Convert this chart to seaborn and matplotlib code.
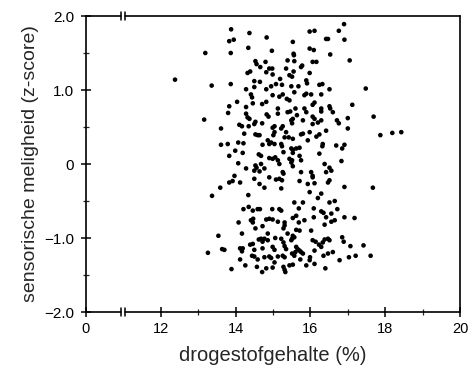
import matplotlib
matplotlib.use("Agg")
import matplotlib.pyplot as plt
import seaborn as sns
import pandas as pd

# drogestofgehalte (%)
dm_pct = [
    13.88, 14.37, 13.83, 13.95, 14.34, 13.19, 13.87, 14.53, 14.56, 14.32, 14.39, 12.38, 13.36, 13.87, 14.50,
    14.28, 14.50, 14.41, 14.44, 14.04, 14.46, 13.83, 14.28,
    16.90, 15.98, 16.11, 16.76, 14.83, 16.42, 16.47, 16.91, 15.53, 14.97, 15.98, 16.09, 15.55, 15.56, 16.53,
    14.80, 15.39, 15.57, 16.06, 16.16, 17.05, 14.66, 14.90, 14.98, 15.35, 15.75, 15.78, 15.55, 14.82, 14.99,
    15.44, 15.51, 15.98, 15.19, 15.89, 15.91, 16.24, 16.32, 14.65, 15.08, 15.24, 14.95, 14.82, 15.49, 15.68,
    16.51, 17.48, 14.99, 15.17, 15.26, 15.37, 15.44, 15.57, 15.84, 15.89, 16.02, 16.29, 14.82, 14.71, 16.06,
    16.11, 16.51, 16.53, 17.12, 15.13, 15.60, 15.84, 16.29,
    17.69, 17.87, 18.19, 18.43, 17.67, 16.85, 16.91,
    13.16, 13.80, 14.28, 14.32, 14.37, 14.53, 14.50, 14.10, 14.17, 14.35, 13.61, 14.23, 14.53, 14.59, 13.61,
    13.79, 14.07, 14.21, 13.99, 13.83, 14.19, 14.62, 14.07, 14.28, 14.53, 14.56, 14.50, 13.97, 13.83, 13.92,
    14.12, 14.50, 13.59, 13.37, 14.34, 14.64,
    14.83, 14.88, 15.13, 15.39, 15.46, 15.64, 15.89, 16.06, 16.29, 16.60, 17.00, 14.71, 14.99, 15.04, 15.26,
    15.22, 15.49, 15.53, 15.51, 15.80, 16.11, 16.20, 16.06, 16.29, 16.71, 16.76, 17.00, 15.04, 15.01, 15.35,
    15.42, 15.53, 15.31, 15.75, 15.80, 15.98, 16.16, 16.24, 16.42, 14.64, 14.86, 14.95, 15.04, 14.90, 14.72,
    15.22, 15.24, 15.93, 16.33, 16.32, 16.69, 15.49, 15.53, 15.62, 15.71, 15.28, 15.53, 15.71, 16.24, 14.68,
    14.90, 14.99, 15.06, 15.13, 15.17, 15.44, 15.51, 15.49, 15.75, 16.83, 14.68, 15.53, 16.38, 16.51, 16.56,
    14.77, 15.26, 15.28, 14.64, 15.75, 16.02, 16.06, 16.06, 16.42, 14.90, 15.08, 15.17, 15.24, 15.71, 15.93,
    16.11, 16.47, 16.51, 14.77, 15.22, 16.91, 15.98, 16.29, 16.20, 15.57, 15.80, 16.51, 16.65,
    14.21, 14.35, 14.46, 14.59, 14.08, 14.41, 14.47, 14.46, 14.53, 13.54, 14.17, 14.62, 13.64, 13.70, 13.26,
    14.12, 14.19, 14.17, 14.39, 14.46, 14.50, 14.44, 14.50, 14.12, 14.59, 14.26, 14.57, 13.89,
    14.65, 14.98, 15.17, 15.22, 15.69, 16.09, 16.29, 16.35, 16.72, 16.56, 14.82, 14.90, 14.99, 15.13, 15.53,
    15.62, 15.69, 15.84, 16.09, 16.42, 16.56, 16.65, 16.91, 17.18, 14.72, 15.31, 15.31, 15.28, 15.62, 15.71,
    16.38, 16.02, 14.86, 15.39, 15.53, 15.57, 15.51, 15.49, 14.68, 14.77, 14.86, 14.72, 15.06, 15.22, 15.28,
    16.06, 16.14, 16.33, 16.38, 16.47, 16.51, 16.85, 16.89, 14.72, 14.99, 15.04, 15.31, 15.35, 15.62, 15.66,
    15.71, 16.23, 16.29, 16.11, 17.07, 17.42, 15.51, 15.60, 15.57, 15.75, 15.80, 16.35, 16.47, 16.60, 17.03,
    17.21, 14.77, 14.90, 14.95, 15.13, 15.26, 15.31, 15.99, 15.98, 15.73, 16.78, 15.04, 16.11, 15.89, 15.44,
    15.53, 15.28, 15.31, 15.33, 14.82, 14.99, 14.71, 16.40, 17.61,
]

# sensorische meligheid (z-score)
mealiness_z = [
    1.82, 1.77, 1.66, 1.68, 1.57, 1.50, 1.50, 1.39, 1.35, 1.23, 1.25, 1.14, 1.06, 1.08, 1.12,
    1.01, 1.04, 0.94, 0.90, 0.84, 0.82, 0.78, 0.77,
    1.89, 1.79, 1.80, 1.80, 1.71, 1.69, 1.69, 1.68, 1.65, 1.53, 1.56, 1.54, 1.49, 1.47, 1.48,
    1.38, 1.40, 1.39, 1.38, 1.38, 1.40, 1.31, 1.29, 1.29, 1.29, 1.31, 1.33, 1.25, 1.24, 1.21,
    1.20, 1.18, 1.23, 1.15, 1.13, 1.09, 1.07, 1.08, 1.11, 1.08, 1.07, 1.05, 1.01, 1.05, 1.05,
    1.01, 1.02, 0.93, 0.91, 0.94, 0.88, 0.86, 0.97, 0.93, 0.95, 0.94, 0.94, 0.84, 0.81, 0.80,
    0.83, 0.78, 0.75, 0.80, 0.75, 0.75, 0.75, 0.75,
    0.64, 0.39, 0.42, 0.43, -0.32, 0.21, 0.26,
    0.60, 0.69, 0.68, 0.63, 0.61, 0.57, 0.54, 0.53, 0.51, 0.51, 0.48, 0.41, 0.40, 0.39, 0.26,
    0.27, 0.29, 0.28, 0.18, 0.11, 0.15, 0.13, 0.01, -0.06, -0.02, -0.05, -0.09, -0.16, -0.25, -0.23,
    -0.25, -0.20, -0.32, -0.43, -0.42, -0.27,
    0.67, 0.64, 0.68, 0.70, 0.71, 0.66, 0.70, 0.64, 0.71, 0.70, 0.62, 0.55, 0.49, 0.51, 0.51,
    0.48, 0.59, 0.61, 0.55, 0.59, 0.61, 0.56, 0.54, 0.59, 0.59, 0.55, 0.48, 0.43, 0.39, 0.43,
    0.36, 0.34, 0.36, 0.40, 0.41, 0.43, 0.37, 0.40, 0.45, 0.39, 0.32, 0.29, 0.27, 0.27, 0.26,
    0.27, 0.24, 0.32, 0.27, 0.24, 0.25, 0.21, 0.19, 0.21, 0.22, 0.16, 0.15, 0.11, 0.14, 0.11,
    0.08, 0.07, 0.09, 0.05, 0.00, 0.07, 0.05, 0.02, 0.05, 0.04, 0.00, -0.03, 0.00, -0.05, -0.09,
    -0.06, -0.11, -0.13, -0.10, -0.11, -0.11, -0.16, -0.18, -0.11, -0.18, -0.21, -0.20, -0.22, -0.23, -0.27,
    -0.26, -0.25, -0.22, -0.32, -0.33, -0.31, -0.38, -0.40, -0.46, -0.52, -0.52, -0.52, -0.50,
    -0.61, -0.58, -0.63, -0.61, -0.79, -0.76, -0.74, -0.79, -0.87, -0.97, -0.94, -1.02, -1.15, -1.16, -1.20,
    -1.14, -1.14, -1.18, -1.09, -1.08, -1.16, -1.24, -1.25, -1.29, -1.29, -1.37, -1.39, -1.42,
    -0.61, -0.61, -0.61, -0.63, -0.60, -0.60, -0.64, -0.66, -0.61, -0.67, -0.75, -0.74, -0.75, -0.78, -0.73,
    -0.70, -0.79, -0.76, -0.72, -0.72, -0.78, -0.76, -0.72, -0.73, -0.84, -0.79, -0.83, -0.87, -0.89, -0.90,
    -0.82, -0.90, -0.94, -0.94, -0.97, -0.99, -1.01, -1.03, -1.01, -1.01, -1.03, -1.05, -1.00, -1.01, -1.06,
    -1.03, -1.05, -1.06, -1.02, -1.01, -1.03, -0.99, -1.05, -1.14, -1.12, -1.16, -1.11, -1.15, -1.12, -1.15,
    -1.17, -1.09, -1.12, -1.17, -1.11, -1.10, -1.21, -1.19, -1.24, -1.19, -1.21, -1.24, -1.21, -1.19, -1.26,
    -1.24, -1.26, -1.25, -1.27, -1.25, -1.24, -1.26, -1.26, -1.30, -1.29, -1.30, -1.33, -1.35, -1.37, -1.37,
    -1.36, -1.39, -1.43, -1.46, -1.41, -1.40, -1.46, -1.41, -1.24,
]

x_ticks = [10, 12, 14, 16, 18, 20]
x_tick_labels = ["0", "12", "14", "16", "18", "20"]
y_ticks = [-2.0, -1.0, 0.0, 1.0, 2.0]
y_tick_labels = ["\u22122.0", "\u22121.0", "0", "1.0", "2.0"]

df = pd.DataFrame({"dm": dm_pct, "z": mealiness_z})

sns.set_style("ticks")
plt.rcParams["font.family"] = ["Liberation Sans", "DejaVu Sans"]

fig = plt.figure(figsize=(4.72, 3.77), dpi=100)
ax = fig.add_axes([86 / 472, 1 - 312 / 377, (460 - 86) / 472, (312 - 16) / 377])

sns.scatterplot(data=df, x="dm", y="z", ax=ax, color="black", s=11,
                linewidth=0, edgecolor="none", legend=False)

ax.set_xlim(10, 20)
ax.set_ylim(-2, 2)
ax.set_xticks(x_ticks)
ax.set_xticklabels(x_tick_labels)
ax.set_xticks([13, 15, 17, 19], minor=True)
ax.set_yticks(y_ticks)
ax.set_yticklabels(y_tick_labels)
ax.set_yticks([-1.5, -0.5, 0.5, 1.5], minor=True)

lw = 1.2
for side in ["left", "right"]:
    ax.spines[side].set_linewidth(lw)
    ax.spines[side].set_color("black")
ax.spines["top"].set_visible(False)
ax.spines["bottom"].set_visible(False)

ax.tick_params(axis="both", which="major", direction="inout", length=7, width=1.1,
               labelsize=10.5, colors="black", pad=4)
ax.tick_params(axis="y", which="major", labelsize=11, pad=5)
ax.tick_params(axis="both", which="minor", direction="inout", length=4, width=0.9)

# broken bottom and top axis lines
trans = ax.get_xaxis_transform()
b1, b2 = 10.93, 11.03
for yy in (0, 1):
    ax.plot([10, b1], [yy, yy], color="black", lw=lw, transform=trans, clip_on=False)
    ax.plot([b2, 20], [yy, yy], color="black", lw=lw, transform=trans, clip_on=False)
    for bx in (b1, b2):
        ax.plot([bx, bx], [yy - 0.013, yy + 0.013], color="black", lw=1.1,
                transform=trans, clip_on=False)

ax.set_xlabel("drogestofgehalte (%)", fontsize=14.5, labelpad=7)
ax.set_ylabel("sensorische meligheid (z-score)", fontsize=14, labelpad=4)

fig.savefig("out.png", dpi=100)
